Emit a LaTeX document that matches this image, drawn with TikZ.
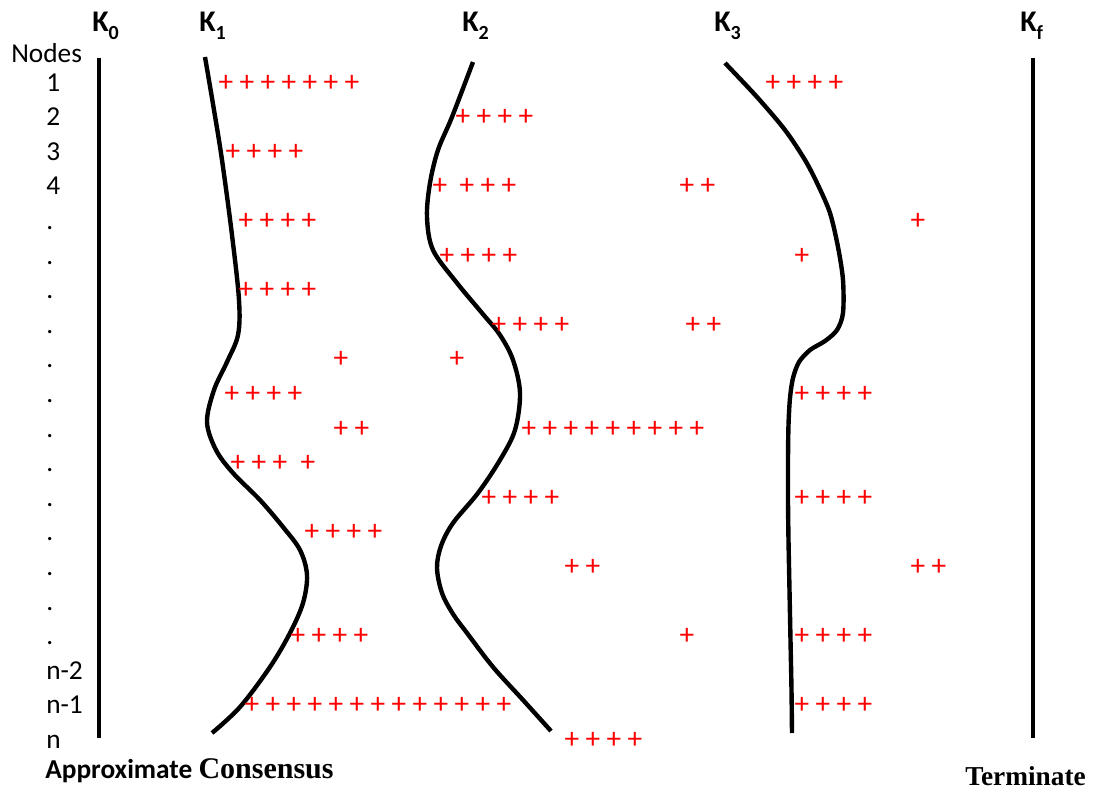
\documentclass[tikz,border=0pt]{standalone}
\usepackage{fontspec}
\setmainfont{Carlito}
\newfontfamily\serifface{Liberation Serif}
\newcommand\ksub[1]{\raisebox{-0.28em}{\fontsize{15}{15}\selectfont #1}}
% vertical centre of node row #1 (pixels from the top)
\newcommand\rowy[1]{(83+(#1-1)*34.6)}
% a run of #3 red pluses in row #1, starting at x = #2, 21px apart
\newcommand\plusrun[3]{%
  \foreach \i in {1,...,#3}{\node[pl] (p-#1-#2-\i) at ({#2+(\i-1)*21},{\rowy{#1}}) {+};}}
\begin{document}
\begin{tikzpicture}[x=0.75pt,y=-0.75pt,
  rail/.style={line width=3.4pt},
  wave/.style={line width=3.3pt, line join=round, line cap=butt},
  rowlbl/.style={anchor=base west, inner sep=0pt, font=\fontsize{20.5}{21}\selectfont},
  klbl/.style={anchor=base west, inner sep=0pt, font=\fontsize{22.5}{22}\selectfont\bfseries},
  pl/.style={text=red, inner sep=0pt, font=\fontsize{22}{22}\selectfont}]
\useasboundingbox (0,0) rectangle (1101,790);

% column headings
\node[klbl] (k0) at (92,31)   {K\ksub{0}};
\node[klbl] (k1) at (199,31)  {K\ksub{1}};
\node[klbl] (k2) at (462,31)  {K\ksub{2}};
\node[klbl] (k3) at (714,31)  {K\ksub{3}};
\node[klbl] (kf) at (1020,31) {K\ksub{f}};

% row labels
\node[rowlbl] (nodes) at (11,62) {Nodes};
\foreach \r/\t in {1/1,2/2,3/3,4/4,5/.,6/.,7/.,8/.,9/.,10/.,11/.,12/.,13/.,14/.,15/.,16/.,17/.,18/n-2,19/n-1,20/n}
  \node[rowlbl] (row\r) at (46,{\rowy{\r}+8}) {\t};

% start and end boundaries
\coordinate (k0top) at (99,58);  \coordinate (k0bot) at (99,738);
\coordinate (kftop) at (1033,58); \coordinate (kfbot) at (1033,738);
\draw[rail] (k0top) -- (k0bot);
\draw[rail] (kftop) -- (kfbot);

% intermediate boundaries
\draw[wave] plot[smooth, tension=0.55] coordinates {
  (205,57) (214,110) (222,160) (232,235) (239,300) (238,335) (227,362)
  (214,390) (207,422) (216,450) (233,473) (260,500) (283,527) (300,550)
  (307,575) (303,603) (290,633) (270,667) (240,707) (212,733)};
\draw[wave] plot[smooth, tension=0.55] coordinates {
  (473,62) (452,117) (438,150) (430,183) (427,217) (433,250) (457,283)
  (482,313) (500,335) (513,360) (520,393) (515,430) (500,460) (478,493)
  (453,523) (441,546) (437,568) (442,593) (453,614) (467,633) (493,667)
  (523,700) (551,731)};
\draw[wave] plot[smooth, tension=0.5] coordinates {
  (725,63) (757,97) (785,130) (805,160) (818,185) (830,213) (838,247)
  (843,280) (843,313) (837,330) (825,341) (810,350) (799,362) (793,378)
  (790,398) (788.5,425) (788,460) (788,500) (788.5,540) (789.5,590)
  (790.5,640) (791.5,690) (792,733)};

% progress marks
\plusrun{1}{226}{7}   \plusrun{1}{773}{4}
\plusrun{2}{463}{4}
\plusrun{3}{233}{4}
\plusrun{4}{440}{1}   \plusrun{4}{467}{3}   \plusrun{4}{687}{2}
\plusrun{5}{246}{4}   \plusrun{5}{918}{1}
\plusrun{6}{447}{4}   \plusrun{6}{802}{1}
\plusrun{7}{246}{4}
\plusrun{8}{499}{4}   \plusrun{8}{693}{2}
\plusrun{9}{341}{1}   \plusrun{9}{457}{1}
\plusrun{10}{232}{4}  \plusrun{10}{802}{4}
\plusrun{11}{341}{2}  \plusrun{11}{529}{9}
\plusrun{12}{238}{3}  \plusrun{12}{308}{1}
\plusrun{13}{489}{4}  \plusrun{13}{802}{4}
\plusrun{14}{312}{4}
\plusrun{15}{572}{2}  \plusrun{15}{918}{2}
\plusrun{17}{298}{4}  \plusrun{17}{687}{1}  \plusrun{17}{802}{4}
\plusrun{19}{252}{13} \plusrun{19}{802}{4}
\plusrun{20}{572}{4}

% captions
\node[anchor=base west, inner sep=0pt] (approx) at (45,778)
  {\fontsize{20.5}{20}\selectfont\bfseries Approximate {\serifface\fontsize{22.5}{20}\selectfont Consensus}};
\node[anchor=base west, inner sep=0pt] (term) at (965,785)
  {\serifface\fontsize{20.5}{20}\selectfont\bfseries Terminate};
\end{tikzpicture}
\end{document}
